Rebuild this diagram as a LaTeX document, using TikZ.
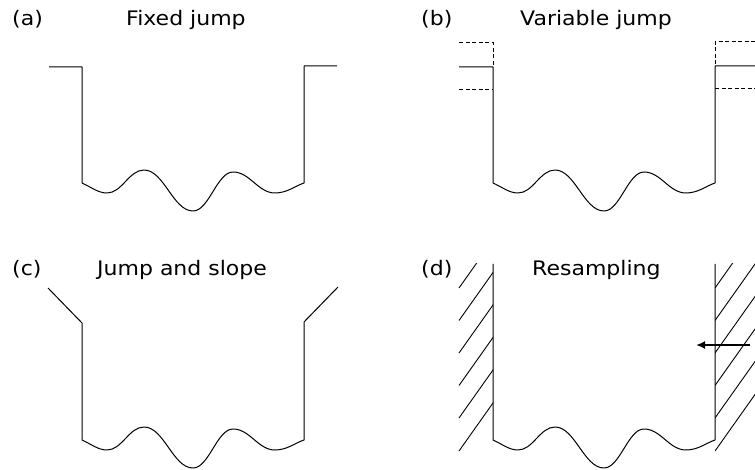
\documentclass[tikz,border=0pt]{standalone}
\usepackage{fontspec}
\setmainfont[FakeStretch=1.1]{DejaVu Sans}
\usetikzlibrary{arrows.meta}
\newcommand{\wellbottom}{(0,0) .. controls (9,4) and (16,10) .. (25,10) .. controls (40,10) and (47,-13) .. (62,-13) .. controls (82,-13) and (91,28) .. (111,28) .. controls (127,28) and (135,-11) .. (151,-11) .. controls (168,-11) and (176,10) .. (193,10) .. controls (205,10) and (213,3) .. (222,0)}
\begin{document}
\begin{tikzpicture}[x=1pt,y=-1pt,
  curve/.style={line width=1pt, line join=round},
  dashline/.style={line width=1pt, dash pattern=on 4pt off 2.5pt},
  hatch/.style={line width=0.9pt},
  lbl/.style={font=\fontsize{20}{24}\selectfont, inner sep=0pt, anchor=base west}]
\useasboundingbox (0,0) rectangle (755,470);
% labels
\node[lbl] (la) at (12,26) {(a)};
\node[lbl] (ta) at (126,26) {Fixed jump};
\node[lbl] (lb) at (421,26) {(b)};
\node[lbl] (tb) at (520,26) {Variable jump};
\node[lbl] (lc) at (12,276) {(c)};
\node[lbl] (tc) at (97,276) {Jump and slope};
\node[lbl] (ld) at (421,276) {(d)};
\node[lbl] (td) at (532,276) {Resampling};
% (a)
\begin{scope}[shift={(82,183)}]
  \draw[curve] (-33,-116) -- (0,-116) -- \wellbottom -- (222,-117) -- (255,-117);
\end{scope}
% (b)
\begin{scope}[shift={(493,183)}]
  \draw[curve] (-34,-116) -- (0,-116) -- \wellbottom -- (222,-117) -- (262,-117);
\end{scope}
\draw[dashline] (459,43) -- (493,43) -- (493,67);
\draw[dashline] (459,90) -- (493,90);
\draw[dashline] (755,42) -- (715,42) -- (715,66);
\draw[dashline] (715,89) -- (755,89);
% (c)
\begin{scope}[shift={(82,440)}]
  \draw[curve] (-34,-152) -- (0,-117) -- \wellbottom -- (222,-118) -- (256,-153);
\end{scope}
% (d)
\begin{scope}[shift={(493,440)}]
  \draw[curve] (0,-176) -- \wellbottom -- (222,-176);
\end{scope}
\begin{scope}
  \clip (458,264) rectangle (493,452);
  \foreach \yy in {288,320.5,353,385.5,418,451}
    \draw[hatch] (459,\yy) -- ++(50,-70.6);
\end{scope}
\begin{scope}
  \clip (715,264) rectangle (755,452);
  \foreach \yy in {288,320.5,353,385.5,418,451}
    \draw[hatch] (715,\yy) -- ++(50,-70.6);
\end{scope}
\coordinate (arrS) at (750,345);
\coordinate (arrE) at (696,345);
\draw[line width=1.8pt, -{Latex[length=9pt,width=8pt]}] (arrS) -- (arrE);
\end{tikzpicture}
\end{document}
